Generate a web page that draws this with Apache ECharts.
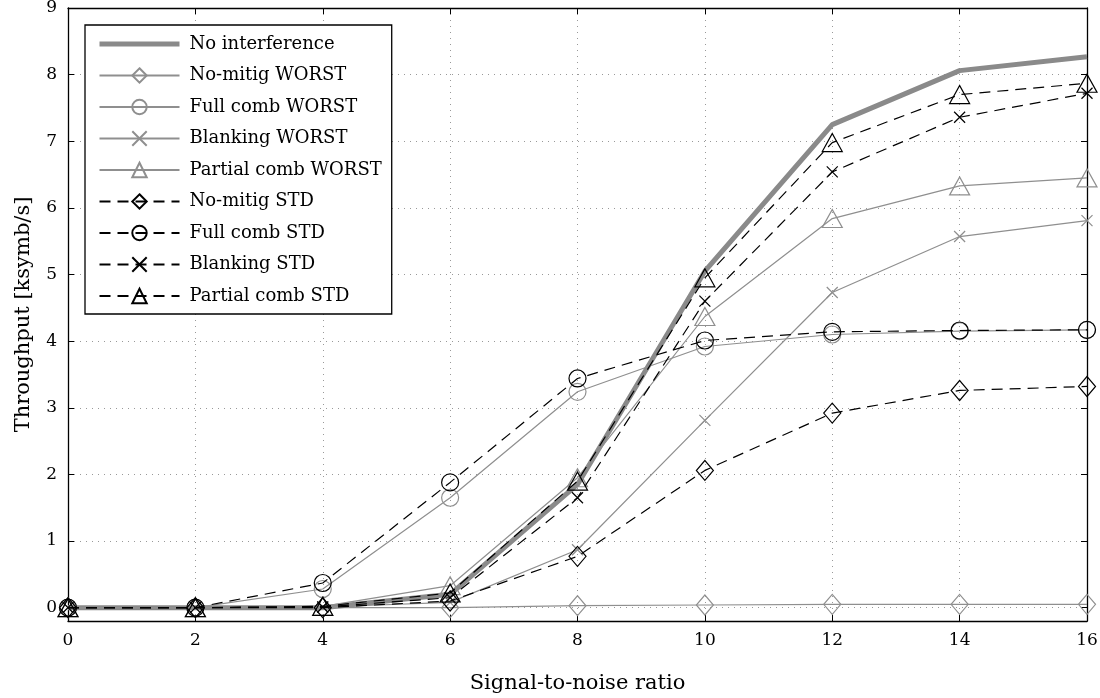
<!DOCTYPE html>
<html><head><meta charset="utf-8">
<script src="https://cdn.jsdelivr.net/npm/echarts@6/dist/echarts.min.js"></script>
<style>html,body{margin:0;padding:0;background:#fff}#c{width:1100px;height:698px}</style>
</head><body><div id="c"></div>
<script>
const snr = [0, 2, 4, 6, 8, 10, 12, 14, 16];
const noInterference   = [0, 0, 0, 0.20, 1.85, 5.05, 7.25, 8.06, 8.27];
const noMitigWorst     = [0, 0, 0, 0.00, 0.03, 0.04, 0.05, 0.05, 0.05];
const fullCombWorst    = [0, 0, 0.28, 1.65, 3.24, 3.92, 4.10, 4.15, 4.17];
const blankingWorst    = [0, 0, 0.01, 0.08, 0.87, 2.81, 4.73, 5.57, 5.81];
const partialCombWorst = [0, 0, 0.02, 0.33, 1.95, 4.37, 5.84, 6.33, 6.45];
const noMitigStd       = [0, 0, 0, 0.10, 0.77, 2.06, 2.92, 3.26, 3.32];
const fullCombStd      = [0, 0, 0.37, 1.88, 3.44, 4.01, 4.14, 4.16, 4.17];
const blankingStd      = [0, 0, 0.01, 0.15, 1.65, 4.60, 6.54, 7.36, 7.72];
const partialCombStd   = [0, 0, 0.02, 0.22, 1.90, 4.95, 6.98, 7.70, 7.87];
const names = ['No interference','No-mitig WORST','Full comb WORST','Blanking WORST','Partial comb WORST','No-mitig STD','Full comb STD','Blanking STD','Partial comb STD'];
const xTicks = [0,2,4,6,8,10,12,14,16];
const yTicks = [0,1,2,3,4,5,6,7,8,9];

const GRAY = '#8f8f8f', BLACK = '#000', THICK = '#8a8a8a';
const CROSS = 'path://M0,0L10,10M10,0L0,10';
const FONT = '"DejaVu Serif", "Liberation Serif", serif';
const pts = a => snr.map((x,i)=>[x,a[i]]);

function mk(name, data, color, dashed, symbol, size, width){
  return {
    name, type:'line', data: pts(data), symbol: symbol || 'none', symbolSize: size || 1,
    showSymbol: !!symbol, z: dashed ? 3 : 2,
    lineStyle:{color, width: width||1.2, type: dashed ? [11,7] : 'solid'},
    itemStyle:{color:'rgba(0,0,0,0)', borderColor: color, borderWidth: 1.2},
    emphasis:{disabled:true}, animation:false
  };
}
const series = [
  mk(names[0], noInterference, THICK, false, null, 1, 5),
  mk(names[1], noMitigWorst, GRAY, false, 'diamond', [17,20]),
  mk(names[2], fullCombWorst, GRAY, false, 'circle', 17),
  mk(names[3], blankingWorst, GRAY, false, CROSS, 11),
  mk(names[4], partialCombWorst, GRAY, false, 'triangle', [20,18]),
  mk(names[5], noMitigStd, BLACK, true, 'diamond', [17,20]),
  mk(names[6], fullCombStd, BLACK, true, 'circle', 17),
  mk(names[7], blankingStd, BLACK, true, CROSS, 11),
  mk(names[8], partialCombStd, BLACK, true, 'triangle', [20,18])
];
series[0].itemStyle = {color:'rgba(0,0,0,0)', borderColor:'rgba(0,0,0,0)'};
series[0].z = 1;

const legendData = names.map((n,i) => i === 0
  ? {name:n, itemStyle:{opacity:0, color:'rgba(0,0,0,0)', borderColor:'rgba(0,0,0,0)'}, lineStyle:{width:5, color:THICK}}
  : {name:n});

const axisLbl = {fontFamily:FONT, fontSize:17, color:'#000', inside:false};
const chart = echarts.init(document.getElementById('c'), null, {renderer:'canvas'});
chart.setOption({
  animation:false,
  textStyle:{fontFamily:FONT},
  grid:{left:68, right:13, top:8, bottom:77, containLabel:false, outerBoundsMode:'none'},
  legend:{
    orient:'vertical', left:85, top:25, itemWidth:80, itemHeight:18, itemGap:13.5,
    data:legendData, backgroundColor:'#fff', borderColor:'#000', borderWidth:1.3, borderRadius:0,
    padding:[10,10,9,12], selectedMode:false,
    textStyle:{fontFamily:FONT, fontSize:18, color:'#000', padding:[0,0,0,5]}
  },
  xAxis:[{
    type:'value', min:0, max:16, interval:2, position:'bottom',
    name:'Signal-to-noise ratio', nameLocation:'middle', nameGap:52,
    nameTextStyle:{fontFamily:FONT, fontSize:21, color:'#000'},
    axisLine:{show:true, onZero:false, lineStyle:{color:'#000', width:1.3}},
    axisTick:{show:true, inside:true, length:6, lineStyle:{color:'#000'}},
    axisLabel:Object.assign({margin:11}, axisLbl),
    splitLine:{show:true, lineStyle:{color:'#999', type:[1,5], width:1}}
  },{
    type:'value', min:0, max:16, interval:2, position:'top',
    axisLine:{show:true, onZero:false, lineStyle:{color:'#000', width:1.3}},
    axisTick:{show:true, inside:true, length:6, lineStyle:{color:'#000'}},
    axisLabel:{show:false}, splitLine:{show:false}
  }],
  yAxis:[{
    type:'value', min:-0.2, max:9, position:'left',
    name:'Throughput [ksymb/s]', nameLocation:'middle', nameGap:34, nameRotate:90,
    nameTextStyle:{fontFamily:FONT, fontSize:21, color:'#000'},
    axisLine:{show:true, onZero:false, lineStyle:{color:'#000', width:1.3}},
    axisTick:{show:true, inside:true, length:6, lineStyle:{color:'#000'}, customValues: yTicks},
    axisLabel:Object.assign({margin:11, customValues: yTicks}, axisLbl),
    splitLine:{show:true, lineStyle:{color:'#999', type:[1,5], width:1}}
  },{
    type:'value', min:-0.2, max:9, position:'right',
    axisLine:{show:true, onZero:false, lineStyle:{color:'#000', width:1.3}},
    axisTick:{show:true, inside:true, length:6, lineStyle:{color:'#000'}, customValues: yTicks},
    axisLabel:{show:false}, splitLine:{show:false}
  }],
  series
});
</script></body></html>
